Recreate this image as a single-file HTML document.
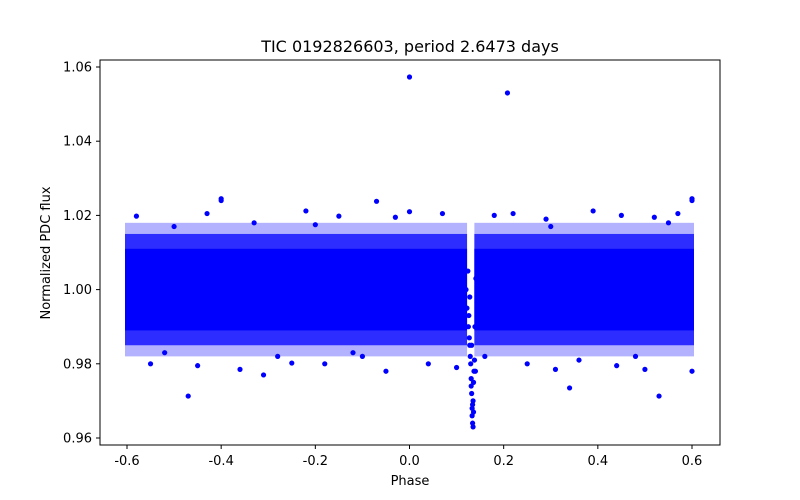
<!DOCTYPE html>
<html><head><meta charset="utf-8"><style>
body{margin:0;background:#fff;}
svg{display:block;font-family:"DejaVu Sans","Liberation Sans",sans-serif;}
</style></head><body>
<svg id="chart" width="800" height="500">
<rect width="800" height="500" fill="#fff"/>
<text x="410" y="52" font-size="16" text-anchor="middle">TIC 0192826603, period 2.6473 days</text>
<g id="plot"></g>
<rect x="100" y="60" width="620" height="385" fill="none" stroke="#000" stroke-width="1"/>
<text x="410" y="485" font-size="13" text-anchor="middle">Phase</text>
<text transform="translate(50,253) rotate(-90)" font-size="13" text-anchor="middle">Normalized PDC flux</text>
</svg>
<script>
const xTicks=[-0.6,-0.4,-0.2,0.0,0.2,0.4,0.6];
const yTicks=[0.96,0.98,1.00,1.02,1.04,1.06];
// dense band segments
const bandStart=[-0.6,0.142];
const bandEnd=[0.118,0.6];
const coreLow=[0.989,0.989];
const coreHigh=[1.011,1.011];
const haloLow=[0.985,0.985];
const haloHigh=[1.015,1.015];
const outerLow=[0.982,0.982];
const outerHigh=[1.018,1.018];
// sparse points (phase, flux)
const ptPhase=[0.0,0.208,-0.40,-0.40,-0.47,0.53,0.60,0.60,-0.31,0.34,-0.07,0.60,-0.58,-0.43,-0.33,-0.22,-0.15,-0.03,0.0,0.07,0.18,0.22,0.29,0.39,0.45,0.52,0.57,-0.55,-0.45,-0.36,-0.25,-0.18,-0.05,0.04,0.1,0.25,0.31,0.44,0.5,-0.52,-0.28,-0.12,0.16,0.36,0.48,-0.5,-0.2,0.3,0.55,-0.1,
0.125,0.128,0.13,0.131,0.132,0.133,0.133,0.134,0.135,0.135,0.136,0.137,0.129,0.127,0.138,0.14,0.126,0.131,0.134,0.136,0.12,0.122,0.124,0.139,0.141,0.132,0.128];
const ptFlux=[1.0573,1.053,1.0245,1.024,0.9713,0.9713,1.0245,1.024,0.977,0.9735,1.0238,0.978,1.0198,1.0205,1.018,1.0212,1.0198,1.0195,1.021,1.0205,1.020,1.0205,1.019,1.0212,1.020,1.0195,1.0205,0.980,0.9795,0.9785,0.9802,0.980,0.978,0.980,0.979,0.980,0.9785,0.9795,0.9785,0.983,0.982,0.983,0.982,0.981,0.982,1.017,1.0175,1.017,1.018,0.982,
0.990,0.985,0.980,0.976,0.972,0.968,0.966,0.964,0.963,0.970,0.975,0.978,0.982,0.987,0.981,0.978,0.993,0.974,0.969,0.967,1.000,0.995,1.005,0.990,1.003,0.985,0.998];
const X=p=>127+(p+0.6)*(692-127)/1.2;
const Y=f=>289.6-(f-1.0)*(74.2/0.02);
const g=document.getElementById('plot');
const NS='http://www.w3.org/2000/svg';
function mk(t,a){const e=document.createElementNS(NS,t);for(const k in a)e.setAttribute(k,a[k]);g.appendChild(e);return e;}
for(let i=0;i<bandStart.length;i++){
 const x0=X(bandStart[i])-2,w=X(bandEnd[i])-X(bandStart[i])+4;
 const o=mk('rect',{x:x0,y:Y(outerHigh[i]),width:w,height:Y(outerLow[i])-Y(outerHigh[i]),fill:'#0000ff','fill-opacity':0.3});
 
 
 const h=mk('rect',{x:x0,y:Y(haloHigh[i]),width:w,height:Y(haloLow[i])-Y(haloHigh[i]),fill:'#0000ff','fill-opacity':0.75});
 
 
 const c=mk('rect',{x:x0,y:Y(coreHigh[i]),width:w,height:Y(coreLow[i])-Y(coreHigh[i]),fill:'#0000ff'});
 
 
}
for(let i=0;i<ptPhase.length;i++){
 const d=mk('circle',{cx:X(ptPhase[i]),cy:Y(ptFlux[i]),r:2.6,fill:'#0000ff'});
 
 
}
xTicks.forEach(t=>{
 const l=mk('line',{x1:X(t),x2:X(t),y1:445,y2:449,stroke:'#000'});
 
 
 const s=mk('text',{x:X(t),y:465,'font-size':13,'text-anchor':'middle'});
 s.textContent=t.toFixed(1);
 
 
});
yTicks.forEach(t=>{
 const l=mk('line',{x1:96,x2:100,y1:Y(t),y2:Y(t),stroke:'#000'});
 
 
 const s=mk('text',{x:92,y:Y(t)+4.5,'font-size':13,'text-anchor':'end'});
 s.textContent=t.toFixed(2);
 
 
});
</script>
</body></html>
